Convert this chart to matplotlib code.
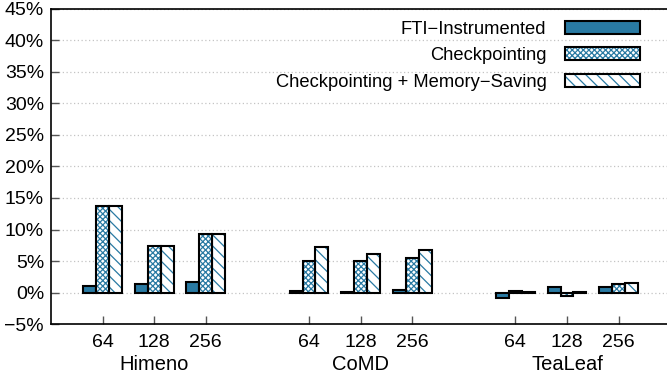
import matplotlib
matplotlib.use("Agg")
import matplotlib.pyplot as plt
import numpy as np
from matplotlib.patches import Patch
from matplotlib.ticker import FuncFormatter

plt.rcParams['font.family'] = ['Liberation Sans', 'DejaVu Sans']
plt.rcParams['hatch.linewidth'] = 0.9

groups = ['Himeno', 'CoMD', 'TeaLeaf']
nodes = ['64', '128', '256']
fti = [1.07, 1.4, 1.75, 0.25, 0.1, 0.4, -0.8, 0.95, 0.9]
ckpt = [13.7, 7.35, 9.3, 4.95, 5.1, 5.55, 0.3, -0.45, 1.33]
ckpt_ms = [13.7, 7.35, 9.3, 7.25, 6.07, 6.8, 0.05, 0.1, 1.55]
labels = ['FTI\u2212Instrumented', 'Checkpointing', 'Checkpointing + Memory\u2212Saving']

blue = '#297aa3'
W, H = 667, 377
fig = plt.figure(figsize=(W / 100, H / 100), dpi=100)
ax = fig.add_axes([51 / W, (377 - 324.3) / H, 1 - 51 / W, (324.3 - 8.5) / H])

xpos = np.array([1 + 4 * g + i for g in range(len(groups)) for i in range(len(nodes))])
width = 0.25

# (values, face, hatch) per series
series = [(fti, blue, None), (ckpt, 'white', 'xxxxxx'), (ckpt_ms, 'white', '\\\\\\')]
handles = []
for k, (vals, face, hatch) in enumerate(series):
    x = xpos + (k - 1) * width
    ax.bar(x, vals, width, color=face, edgecolor=blue, hatch=hatch, linewidth=0, zorder=2)
    ax.bar(x, vals, width, fill=False, edgecolor='black', linewidth=1.5, zorder=3)
    h1 = Patch(facecolor=face, edgecolor=blue, hatch=hatch, linewidth=0)
    h2 = Patch(fill=False, edgecolor='black', linewidth=1.5)
    handles.append((h1, h2))

ax.set_xlim(0, (W - 51) / 51.6)
ax.set_ylim(-5, 45)
ax.set_yticks(np.arange(-5, 46, 5))
ax.yaxis.set_major_formatter(FuncFormatter(lambda v, p: f"{v:.0f}%".replace('-', '\u2212')))
ax.set_xticks(xpos)
ax.set_xticklabels(nodes * len(groups))
ax.tick_params(direction='in', length=6, labelsize=14, width=1, color='#555555')
ax.tick_params(axis='x', pad=7)
ax.tick_params(axis='y', pad=5)
ax.spines['right'].set_visible(False)
for s in ['left', 'top', 'bottom']:
    ax.spines[s].set_linewidth(1.2)
ax.yaxis.grid(True, linestyle=(0, (1, 2)), color='#c4c4c4', linewidth=0.9, zorder=0)
ax.set_axisbelow(True)

for g, name in enumerate(groups):
    ax.text(2 + 4 * g, -0.126, name, transform=ax.get_xaxis_transform(),
            ha='center', va='center', fontsize=14.5)

ax.legend(handles, labels, loc='upper right', bbox_to_anchor=(640 / W, 1 - 20.5 / H),
          bbox_transform=fig.transFigure, frameon=False, markerfirst=False,
          fontsize=13.2, handlelength=4.1, handleheight=0.72, handletextpad=1.0,
          labelspacing=0.52, borderpad=0, borderaxespad=0)

fig.savefig('out.png', dpi=100)
